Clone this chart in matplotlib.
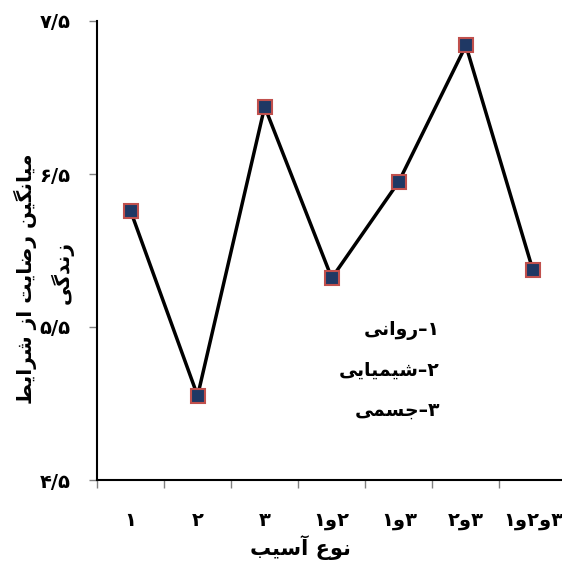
import numpy as np
import matplotlib.pyplot as plt

# شکل دادن حروف فارسی (matplotlib خودش اتصال حروف را انجام نمی‌دهد)
# (isolated, final, initial, medial)
FORMS = {
    'آ': ('\uFE81', '\uFE82', None, None),
    'ا': ('\uFE8D', '\uFE8E', None, None),
    'ب': ('\uFE8F', '\uFE90', '\uFE91', '\uFE92'),
    'ت': ('\uFE95', '\uFE96', '\uFE97', '\uFE98'),
    'ج': ('\uFE9D', '\uFE9E', '\uFE9F', '\uFEA0'),
    'د': ('\uFEA9', '\uFEAA', None, None),
    'ر': ('\uFEAD', '\uFEAE', None, None),
    'ز': ('\uFEAF', '\uFEB0', None, None),
    'س': ('\uFEB1', '\uFEB2', '\uFEB3', '\uFEB4'),
    'ش': ('\uFEB5', '\uFEB6', '\uFEB7', '\uFEB8'),
    'ض': ('\uFEBD', '\uFEBE', '\uFEBF', '\uFEC0'),
    'ط': ('\uFEC1', '\uFEC2', '\uFEC3', '\uFEC4'),
    'ع': ('\uFEC9', '\uFECA', '\uFECB', '\uFECC'),
    'م': ('\uFEE1', '\uFEE2', '\uFEE3', '\uFEE4'),
    'ن': ('\uFEE5', '\uFEE6', '\uFEE7', '\uFEE8'),
    'و': ('\uFEED', '\uFEEE', None, None),
    'گ': ('\uFB92', '\uFB93', '\uFB94', '\uFB95'),
    'ی': ('\uFBFC', '\uFBFD', '\uFBFE', '\uFBFF'),
}


def fa(txt):
    out = []
    for i, ch in enumerate(txt):
        f = FORMS.get(ch)
        if f is None:
            out.append(ch)
            continue
        prev = txt[i - 1] if i > 0 else ''
        nxt = txt[i + 1] if i + 1 < len(txt) else ''
        jp = prev in FORMS and FORMS[prev][2] is not None
        jn = f[2] is not None and nxt in FORMS
        if jp and jn:
            out.append(f[3])
        elif jp:
            out.append(f[1])
        elif jn:
            out.append(f[2])
        else:
            out.append(f[0])
    return ''.join(reversed(out))


# داده‌ها
categories = ['۱', '۲', '۳', '۱و۲', '۱و۳', '۲و۳', '۱و۲و۳']
values = [6.26, 5.05, 6.94, 5.82, 6.45, 7.34, 5.87]
yticks = [4.5, 5.5, 6.5, 7.5]
ytick_labels = ['۴/۵', '۵/۵', '۶/۵', '۷/۵']
legend_items = [('۱', 'روانی'), ('۲', 'شیمیایی'), ('۳', 'جسمی')]

plt.rcParams['font.family'] = ['DejaVu Sans']
plt.rcParams['font.weight'] = 'bold'

fig = plt.figure(figsize=(5.62, 5.64), dpi=100)
ax = fig.add_axes([97 / 562, 1 - 480 / 564, 469.5 / 562, 459 / 564])

x = np.arange(len(values))
ax.plot(x, values, color='black', lw=2.5, marker='s', ms=9.5,
        mfc='#1F3864', mec='#C0504D', mew=1.5, zorder=3)

ax.set_xlim(-0.5, len(values) - 0.5)
ax.set_ylim(4.5, 7.5)
ax.set_xticks(x - 0.5, minor=False)
ax.set_xticklabels([])
ax.set_xticks(x, minor=True)
ax.set_xticklabels(categories, minor=True, fontsize=14, fontweight='bold')
ax.tick_params(axis='x', which='minor', length=0, pad=22)
ax.tick_params(axis='x', which='major', length=6, color='#808080', width=1)
ax.set_yticks(yticks)
ax.set_yticklabels(ytick_labels, fontsize=14, fontweight='bold')
ax.tick_params(axis='y', length=6, color='#808080', width=1, pad=13)

for s in ['top', 'right']:
    ax.spines[s].set_visible(False)
for s in ['left', 'bottom']:
    ax.spines[s].set_linewidth(1.5)
    ax.spines[s].set_color('black')

fig.text(300 / 562, 1 - 548 / 564, fa('نوع آسیب'), ha='center', va='center',
         fontsize=15, fontweight='bold')
# عنوان محور y در دو خط جدا
fig.text(25 / 562, 1 - 279 / 564, fa('میانگین رضایت از شرایط'),
         rotation=90, ha='center', va='center', fontsize=14.5, fontweight='bold')
fig.text(62 / 562, 1 - 272 / 564, fa('زندگی'),
         rotation=90, ha='center', va='center', fontsize=14.5, fontweight='bold')

for i, (num, word) in enumerate(legend_items):
    fig.text(440 / 562, 1 - (330 + 40 * i) / 564, fa(word) + '\u2013' + num,
             ha='right', va='center', fontsize=13.5, fontweight='bold')

fig.savefig('out.png', dpi=100)
